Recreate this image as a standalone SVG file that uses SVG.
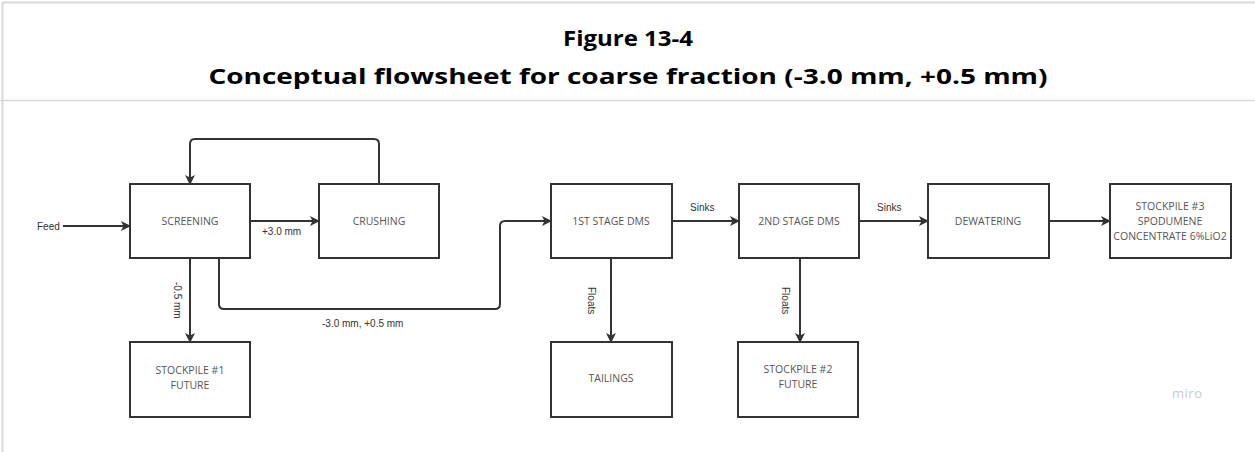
<svg xmlns="http://www.w3.org/2000/svg" width="1255" height="452" viewBox="0 0 1255 452">
<style>
.title{font-family:"Open Sans","Noto Sans",sans-serif;font-weight:bold;fill:#000;text-anchor:middle}
.box{fill:#fff;stroke:#333;stroke-width:2}
.nt{font-family:"Open Sans","Noto Sans",sans-serif;font-size:10.5px;fill:#555;text-anchor:middle}
.lbl{font-family:"Liberation Sans",Arial,sans-serif;font-size:10px;fill:#333}
.ln{fill:none;stroke:#333;stroke-width:2}
.frame{fill:none;stroke:#d9d9d9;stroke-width:2}
</style>
<defs>
<marker id="ah" viewBox="0 0 10 10" refX="9" refY="5" markerWidth="10" markerHeight="10" markerUnits="userSpaceOnUse" orient="auto">
<path d="M0,0 L10,5 L0,10 L2.5,5 z" fill="#333"/>
</marker>
</defs>
<rect width="1255" height="452" fill="#fff"/>
<g id="frame">
<path class="frame" d="M2.5,452 V2.5 H1255"/>
<line x1="0" y1="100.5" x2="1255" y2="100.5" stroke="#d9d9d9" stroke-width="1.5"/>
</g>
<g id="header">
<text class="title" x="628" y="46" font-size="22" textLength="130" lengthAdjust="spacingAndGlyphs">Figure 13-4</text>
<text class="title" x="628" y="84" font-size="22" textLength="839" lengthAdjust="spacingAndGlyphs">Conceptual flowsheet for coarse fraction (-3.0 mm, +0.5 mm)</text>
</g>
<g id="connectors">
<line class="ln" x1="63" y1="226" x2="130" y2="226" marker-end="url(#ah)"/>
<text class="lbl" x="37" y="229.5">Feed</text>
<line class="ln" x1="250" y1="221" x2="319" y2="221" marker-end="url(#ah)"/>
<text class="lbl" x="262" y="234.5">+3.0 mm</text>
<path class="ln" d="M379,184 V144 Q379,139 374,139 H195 Q190,139 190,144 V184" marker-end="url(#ah)"/>
<line class="ln" x1="190" y1="258" x2="190" y2="342" marker-end="url(#ah)"/>
<text class="lbl" transform="translate(174,282) rotate(90)">-0.5 mm</text>
<path class="ln" d="M219,258 V304 Q219,309 224,309 H495 Q500,309 500,304 V226 Q500,221 505,221 H551" marker-end="url(#ah)"/>
<text class="lbl" x="322" y="327">-3.0 mm, +0.5 mm</text>
<line class="ln" x1="672" y1="221" x2="739" y2="221" marker-end="url(#ah)"/>
<text class="lbl" x="690" y="211">Sinks</text>
<line class="ln" x1="611" y1="258" x2="611" y2="342" marker-end="url(#ah)"/>
<text class="lbl" transform="translate(588,287) rotate(90)">Floats</text>
<line class="ln" x1="800" y1="258" x2="800" y2="342" marker-end="url(#ah)"/>
<text class="lbl" transform="translate(782,287) rotate(90)">Floats</text>
<line class="ln" x1="860" y1="221" x2="928" y2="221" marker-end="url(#ah)"/>
<text class="lbl" x="877" y="211">Sinks</text>
<line class="ln" x1="1049" y1="221" x2="1110" y2="221" marker-end="url(#ah)"/>
</g>
<g id="screening"><rect class="box" x="130" y="184" width="120" height="74"/><text class="nt" x="190" y="224.5">SCREENING</text></g>
<g id="crushing"><rect class="box" x="319" y="184" width="120" height="74"/><text class="nt" x="379" y="224.5">CRUSHING</text></g>
<g id="stockpile1"><rect class="box" x="130" y="342" width="120" height="75"/><text class="nt" x="190" y="374">STOCKPILE #1</text><text class="nt" x="190" y="389">FUTURE</text></g>
<g id="dms1"><rect class="box" x="551" y="184" width="121" height="74"/><text class="nt" x="611" y="224.5">1ST STAGE DMS</text></g>
<g id="tailings"><rect class="box" x="551" y="342" width="121" height="75"/><text class="nt" x="611" y="382">TAILINGS</text></g>
<g id="dms2"><rect class="box" x="739" y="184" width="120" height="74"/><text class="nt" x="799" y="224.5">2ND STAGE DMS</text></g>
<g id="stockpile2"><rect class="box" x="738" y="342" width="120" height="75"/><text class="nt" x="798" y="373">STOCKPILE #2</text><text class="nt" x="798" y="388">FUTURE</text></g>
<g id="dewatering"><rect class="box" x="928" y="184" width="121" height="74"/><text class="nt" x="988" y="224.5">DEWATERING</text></g>
<g id="stockpile3"><rect class="box" x="1110" y="184" width="121" height="74"/><text class="nt" x="1170" y="209.5">STOCKPILE #3</text><text class="nt" x="1170" y="224.5">SPODUMENE</text><text class="nt" x="1170" y="239.5">CONCENTRATE 6%LiO2</text></g>
<text x="1172" y="398" font-family="Open Sans,sans-serif" font-size="13" fill="#c8c8cc" letter-spacing="0.5">miro</text>
</svg>
